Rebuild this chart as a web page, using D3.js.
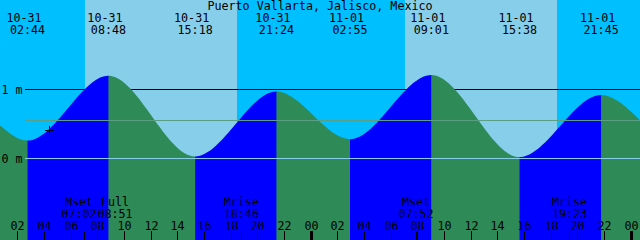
<!DOCTYPE html>
<html>
<head>
<meta charset="utf-8">
<script src="https://cdn.jsdelivr.net/npm/d3@7"></script>
<style>
  body { margin: 0; background: #fff; }
  svg { display: block; }
  text { font-family: "DejaVu Sans Mono", monospace; font-size: 11.7px; fill: #000; }
</style>
</head>
<body>
<div id="chart"></div>
<script>
// chart data
var title = "Puerto Vallarta, Jalisco, Mexico";
var startTime = "2020-10-31T00:40";
var endTime = "2020-11-02T00:40";

// tide curve: window edges plus the highs and lows (metres)
var tideTimes = ["2020-10-31T00:40", "2020-10-31T02:44", "2020-10-31T08:48", "2020-10-31T15:18",
                 "2020-10-31T21:24", "2020-11-01T02:55", "2020-11-01T09:01", "2020-11-01T15:38",
                 "2020-11-01T21:45", "2020-11-02T00:40"];
var tideHeights = [0.48, 0.26, 1.20, 0.03, 0.97, 0.28, 1.21, 0.02, 0.92, 0.555];

var sunRise = ["2020-10-31T07:03", "2020-11-01T07:03"];
var sunSet = ["2020-10-31T18:27", "2020-11-01T18:27"];

var moonNames = ["Mset", "Full", "Mrise", "Mset", "Mrise"];
var moonTimes = ["2020-10-31T07:02", "2020-10-31T08:51", "2020-10-31T18:46",
                 "2020-11-01T07:52", "2020-11-01T19:23"];

var depthLevels = [0, 1];
var depthLabels = ["0 m", "1 m"];
var meanLevel = 0.55;

var nowTime = "2020-10-31T04:22";
var nowHeight = 0.41;

// size
var width = 640;
var height = 240;
var charW = 7;

// colours
var nightColor = "#00bfff";
var dayColor = "#87ceeb";
var floodColor = "#0000ff";
var ebbColor = "#2e8b57";
var datumColor = "#87ceeb";
var meanColor = "#5a9f84";

var parse = d3.utcParse("%Y-%m-%dT%H:%M");

var xScale = d3.scaleUtc()
               .domain([parse(startTime), parse(endTime)])
               .range([0, width]);
var yScale = d3.scaleLinear()
               .domain([0, 1])
               .range([158.5, 89.5]);

var svg = d3.select("#chart")
            .append("svg")
            .attr("width", width)
            .attr("height", height);

// sky: night everywhere, day between sunrise and sunset
svg.append("rect")
   .attr("width", width)
   .attr("height", height)
   .attr("fill", nightColor);
svg.selectAll(".day")
   .data(sunRise)
   .enter().append("rect")
   .attr("class", "day")
   .attr("x", function(d) { return Math.round(xScale(parse(d))); })
   .attr("width", function(d, i) { return Math.round(xScale(parse(sunSet[i]))) - Math.round(xScale(parse(d))); })
   .attr("y", 0)
   .attr("height", height)
   .attr("fill", dayColor);

// 1 m line sits behind the water
svg.append("line")
   .attr("x1", 25)
   .attr("x2", width)
   .attr("y1", yScale(1))
   .attr("y2", yScale(1))
   .attr("stroke", "#000")
   .attr("stroke-width", 1);

// water
var tide = tideTimes.map(function(t, i) { return {t: parse(t), h: tideHeights[i]}; });
var area = d3.area()
             .x(function(d) { return xScale(d.t); })
             .y0(height)
             .y1(function(d) { return yScale(d.h); })
             .curve(d3.curveMonotoneX);

svg.append("clipPath")
   .attr("id", "water")
   .append("path")
   .datum(tide)
   .attr("d", area);

var segments = d3.pairs(tide);
svg.append("g")
   .attr("clip-path", "url(#water)")
   .selectAll("rect")
   .data(segments)
   .enter().append("rect")
   .attr("x", function(d) { return xScale(d[0].t); })
   .attr("width", function(d) { return xScale(d[1].t) - xScale(d[0].t) + 0.5; })
   .attr("y", 0)
   .attr("height", height)
   .attr("fill", function(d) { return d[1].h > d[0].h ? floodColor : ebbColor; });

// datum and mean lines on top of the water
svg.append("line")
   .attr("x1", 25)
   .attr("x2", width)
   .attr("y1", yScale(0))
   .attr("y2", yScale(0))
   .attr("stroke", datumColor);
svg.append("line")
   .attr("x1", 25)
   .attr("x2", width)
   .attr("y1", Math.floor(yScale(meanLevel)) + 0.5)
   .attr("y2", Math.floor(yScale(meanLevel)) + 0.5)
   .attr("stroke", meanColor);

// depth labels
svg.selectAll(".depth")
   .data(depthLevels)
   .enter().append("text")
   .attr("class", "depth")
   .attr("x", 1.5)
   .attr("y", function(d) { return yScale(d) + 4.2; })
   .text(function(d, i) { return depthLabels[i]; });

// current time mark
var nx = Math.floor(xScale(parse(nowTime))) + 0.5;
var ny = Math.floor(yScale(nowHeight)) + 0.5;
svg.append("path")
   .attr("d", "M" + (nx - 4.5) + "," + ny + "H" + (nx + 4.5) + "M" + nx + "," + (ny - 4.5) + "V" + (ny + 4.5))
   .attr("stroke", "#000")
   .attr("fill", "none");

// title
svg.append("text")
   .attr("x", width / 2)
   .attr("y", 10)
   .attr("text-anchor", "middle")
   .text(title);

// high / low labels along the top
var extrema = tide.slice(1, tide.length - 1);
var fmtDate = d3.utcFormat("%m-%d");
var fmtTime = d3.utcFormat("%H:%M");
svg.selectAll(".exDate")
   .data(extrema)
   .enter().append("text")
   .attr("class", "exDate")
   .attr("x", function(d) { return xScale(d.t) - charW / 2; })
   .attr("y", 22)
   .attr("text-anchor", "middle")
   .text(function(d) { return fmtDate(d.t); });
svg.selectAll(".exTime")
   .data(extrema)
   .enter().append("text")
   .attr("class", "exTime")
   .attr("x", function(d) { return xScale(d.t); })
   .attr("y", 33.5)
   .attr("text-anchor", "middle")
   .text(function(d) { return fmtTime(d.t); });

// moon events, labels pushed apart where they would collide
var moon = moonTimes.map(function(t, i) {
  var d = parse(t);
  return {name: moonNames[i], t: d, x: xScale(d), w: 5 * charW};
});
moon.forEach(function(d) { d.cx = d.x; });
for (var i = 1; i < moon.length; i++) {
  var a = moon[i - 1], b = moon[i];
  var need = (a.w + b.w) / 2 + 1;
  if (b.cx - a.cx < need) {
    var mid = (a.cx + b.cx) / 2;
    a.cx = mid - need / 2;
    b.cx = mid + need / 2;
  }
}
svg.selectAll(".moonName")
   .data(moon)
   .enter().append("text")
   .attr("class", "moonName")
   .attr("x", function(d) { return d.cx; })
   .attr("y", 206)
   .attr("text-anchor", "middle")
   .text(function(d) { return d.name; });
svg.selectAll(".moonTime")
   .data(moon)
   .enter().append("text")
   .attr("class", "moonTime")
   .attr("x", function(d) { return d.cx; })
   .attr("y", 217.5)
   .attr("text-anchor", "middle")
   .text(function(d) { return fmtTime(d.t); });
// rise / set get a tick, phases do not
svg.selectAll(".moonTick")
   .data(moon.filter(function(d) { return d.name !== "Full"; }))
   .enter().append("line")
   .attr("class", "moonTick")
   .attr("x1", function(d) { return Math.floor(d.x) + 0.5; })
   .attr("x2", function(d) { return Math.floor(d.x) + 0.5; })
   .attr("y1", 231)
   .attr("y2", height)
   .attr("stroke", "#000");

// hour axis along the bottom
var hours = xScale.ticks(d3.utcHour.every(2));
var fmtHour = d3.utcFormat("%H");
svg.selectAll(".hourTick")
   .data(hours)
   .enter().append("line")
   .attr("class", "hourTick")
   .attr("x1", function(d) { return Math.floor(xScale(d)) + 0.5; })
   .attr("x2", function(d) { return Math.floor(xScale(d)) + 0.5; })
   .attr("y1", 231)
   .attr("y2", height)
   .attr("stroke", "#000")
   .attr("stroke-width", function(d) { return d.getUTCHours() === 0 ? 3 : 1; });
svg.selectAll(".hourLabel")
   .data(hours)
   .enter().append("text")
   .attr("class", "hourLabel")
   .attr("x", function(d) { return Math.floor(xScale(d)) + 0.5; })
   .attr("y", 229.5)
   .attr("text-anchor", "middle")
   .text(function(d) { return fmtHour(d); });
</script>
</body>
</html>
